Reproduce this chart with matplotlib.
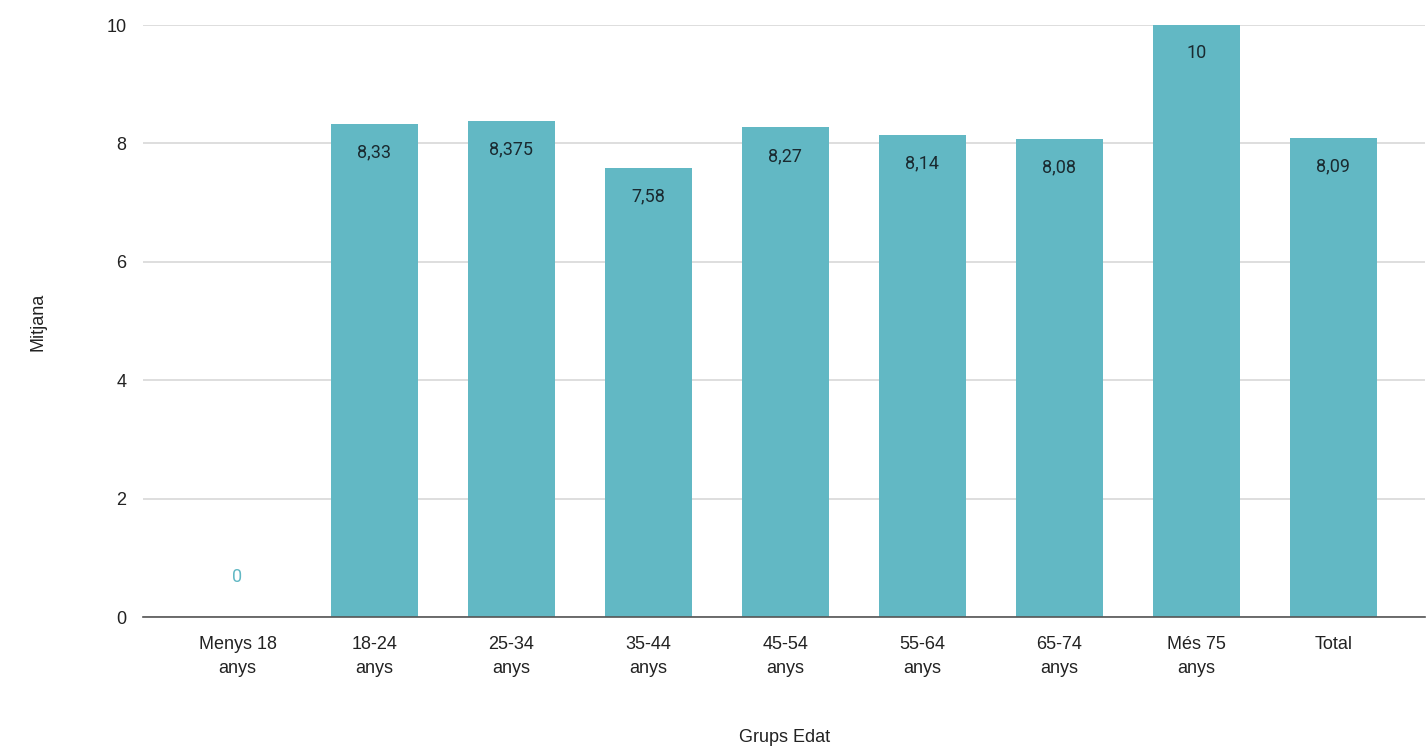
import matplotlib
matplotlib.use("Agg")
import matplotlib.pyplot as plt

categories = ["Menys 18\nanys", "18-24\nanys", "25-34\nanys", "35-44\nanys", "45-54\nanys",
              "55-64\nanys", "65-74\nanys", "Més 75\nanys", "Total"]
values = [0, 8.33, 8.375, 7.58, 8.27, 8.14, 8.08, 10, 8.09]
value_labels = ["0", "8,33", "8,375", "7,58", "8,27", "8,14", "8,08", "10", "8,09"]
yticks = [0, 2, 4, 6, 8, 10]

plt.rcParams['font.family'] = ['Liberation Sans', 'DejaVu Sans']
bar_color = "#62b8c4"

fig = plt.figure(figsize=(14.26, 7.51), dpi=100)
ax = fig.add_axes([143/1426, 1 - 617/751, (1425-143)/1426, (617-25)/751])

x = list(range(len(categories)))
bars = ax.bar(x, values, width=0.635, color=bar_color, zorder=3)

for xi, v, lab in zip(x, values, value_labels):
    if v == 0:
        ax.annotate(lab, (xi, v), xytext=(0, 22), textcoords="offset points",
                    ha="center", va="bottom", fontsize=13, color=bar_color,
                    family=["Roboto", "DejaVu Sans"])
    else:
        ax.annotate(lab, (xi, v), xytext=(0, -14), textcoords="offset points",
                    ha="center", va="top", fontsize=13, color="#1a2a30",
                    family=["Roboto", "DejaVu Sans"], zorder=4)

ax.set_ylim(0, 10)
ax.set_xlim(-0.69, 8.67)
ax.set_yticks(yticks)
ax.set_yticklabels([str(t) for t in yticks], fontsize=13, color="#222222")
ax.set_xticks(x)
ax.set_xticklabels(categories, fontsize=13, color="#222222", linespacing=1.5)
ax.tick_params(axis="y", length=0, pad=12)
ax.tick_params(axis="x", length=0, pad=14)
ax.grid(axis="y", color="#d8d8d8", linewidth=1.2, zorder=0)
for s in ["top", "right", "left"]:
    ax.spines[s].set_visible(False)
ax.spines["bottom"].set_color("#555555")
ax.spines["bottom"].set_linewidth(1.2)
ax.spines["bottom"].set_zorder(5)

fig.text(785/1426, 1 - 738/751, "Grups Edat", ha="center", va="center", fontsize=13, color="#222222")
fig.text(38/1426, 1 - 322/751, "Mitjana", ha="center", va="center", rotation=90, fontsize=13, color="#222222")

fig.savefig("out.png", dpi=100, facecolor="white")
